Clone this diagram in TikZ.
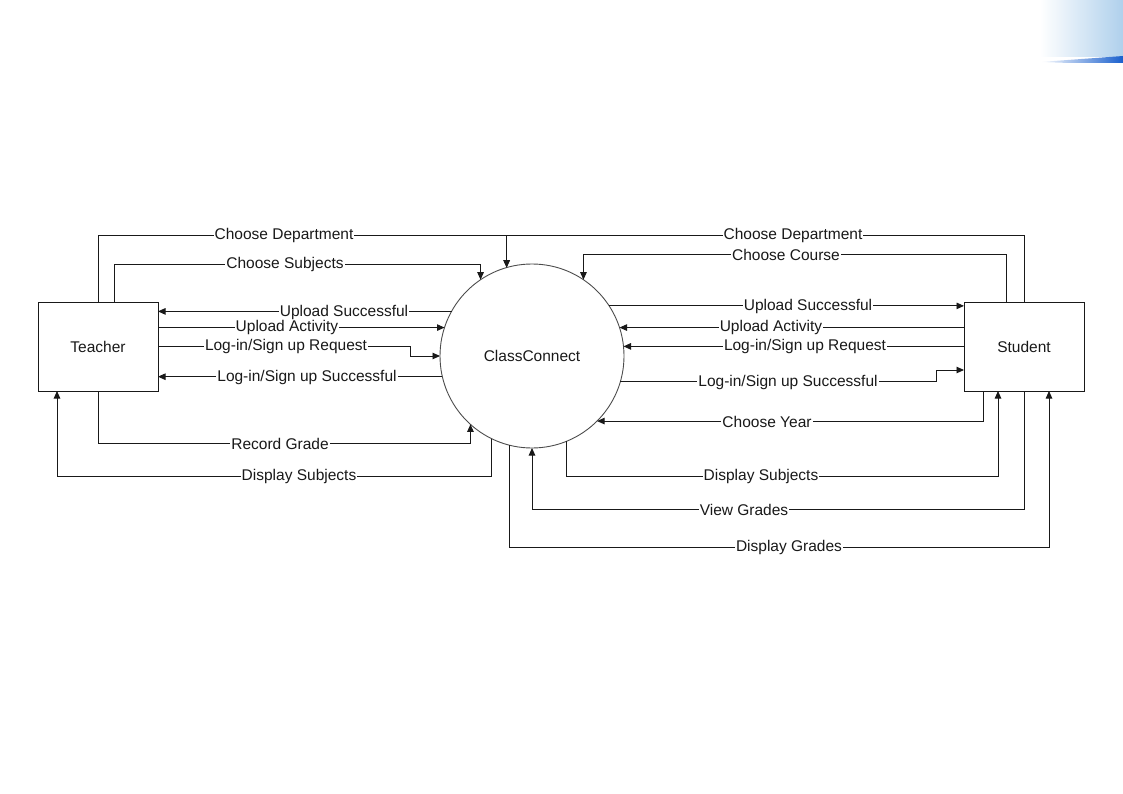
\documentclass[tikz,border=0pt]{standalone}
\usepackage{fontspec}
\setmainfont{Liberation Sans}
\usetikzlibrary{arrows.meta}
\definecolor{ink}{RGB}{25,25,25}
\definecolor{cornerlight}{RGB}{175,208,236}
\definecolor{cornerdark}{RGB}{25,95,205}
\tikzset{
  flow/.style={draw=ink, line width=0.9pt, -{Triangle[length=7.5pt,width=6.5pt]}},
  lbl/.style={fill=white, text=ink, inner xsep=1pt, inner ysep=0.3pt, yshift=-0.8pt, font=\fontsize{15.5}{17}\selectfont},
  entity/.style={draw=ink, line width=0.9pt, rectangle, minimum width=120pt, minimum height=89pt, inner sep=0pt, outer sep=0pt, text=ink, font=\fontsize{15.5}{17}\selectfont},
  process/.style={draw=black!70, line width=0.9pt, circle, minimum size=184pt, inner sep=0pt, outer sep=0pt, text=ink, font=\fontsize{15.5}{17}\selectfont}
}
\begin{document}
\begin{tikzpicture}[x=1pt,y=-1pt]
\useasboundingbox (0,0) rectangle (1123,794);
% corner decoration
\shade[left color=white, right color=cornerlight] (1040,0) rectangle (1123,57);
\shade[left color=white, right color=cornerdark] (1040,62) -- (1123,56) -- (1123,63) -- (1070,63) -- cycle;

\node[entity] (teacher) at (98,346.5) {Teacher};
\node[entity] (student) at (1024,346.5) {Student};
\node[process] (cc) at (532,356) {ClassConnect};

% teacher side
\draw[flow] (teacher.north) |- (cc.106 |- 0,235) -- (cc.106);
\draw[flow] ([xshift=76pt]teacher.north west) |- (cc.124 |- 0,264) -- (cc.124);
\draw[flow] (cc.151) -- (teacher.east |- cc.151);
\draw[flow] (teacher.east |- cc.162) -- (cc.162);
\draw[flow] (teacher.east |- 0,346) -- (410,346) |- (cc.180);
\draw[flow] (cc.193) -- (teacher.east |- cc.193);
\draw[flow] (teacher.south) |- (cc.228 |- 0,443) -- (cc.228);
\draw[flow] (cc.244) -- (cc.244 |- 0,476) -| ([xshift=19pt]teacher.south west);

% student side
\draw[flow] (student.north) |- (cc.106 |- 0,235) -- (cc.106);
\draw[flow] ([xshift=42pt]student.north west) |- (cc.56 |- 0,254) -- (cc.56);
\draw[flow] (cc.33) -- (student.west |- cc.33);
\draw[flow] (student.west |- cc.18) -- (cc.18);
\draw[flow] (student.west |- cc.6) -- (cc.6);
\draw[flow] (cc.344) -| (936,370) -- (student.west |- 0,370);
\draw[flow] ([xshift=19pt]student.south west) |- (cc.315);
\draw[flow] (cc.292) -- (cc.292 |- 0,476) -| ([xshift=34pt]student.south west);
\draw[flow] (student.south) |- (cc.270 |- 0,509) -- (cc.270);
\draw[flow] (cc.256) -- (cc.256 |- 0,547) -| ([xshift=85pt]student.south west);

% labels
\node[lbl] (l1) at (284,235) {Choose Department};
\node[lbl] (l2) at (285,264) {Choose Subjects\ };
\node[lbl] (l3) at (344,312) {Upload Successful};
\node[lbl] (l4) at (287,327) {Upload Activity};
\node[lbl] (l5) at (286,346) {Log-in/Sign up Request};
\node[lbl] (l6) at (307,377) {Log-in/Sign up Successful};
\node[lbl] (l7) at (280,443) {Record Grade};
\node[lbl] (l8) at (299,476) {Display Subjects};
\node[lbl] (r1) at (793,235) {Choose Department};
\node[lbl] (r2) at (786,254) {Choose Course};
\node[lbl] (r3) at (808,306) {Upload Successful};
\node[lbl] (r4) at (771,327) {Upload Activity};
\node[lbl] (r5) at (805,346) {Log-in/Sign up Request};
\node[lbl] (r6) at (788,382) {Log-in/Sign up Successful};
\node[lbl] (r7) at (767,421) {Choose Year};
\node[lbl] (r8) at (761,476) {Display Subjects};
\node[lbl] (r9) at (744,509) {View Grades};
\node[lbl] (r10) at (789,547) {Display Grades};
\end{tikzpicture}
\end{document}
